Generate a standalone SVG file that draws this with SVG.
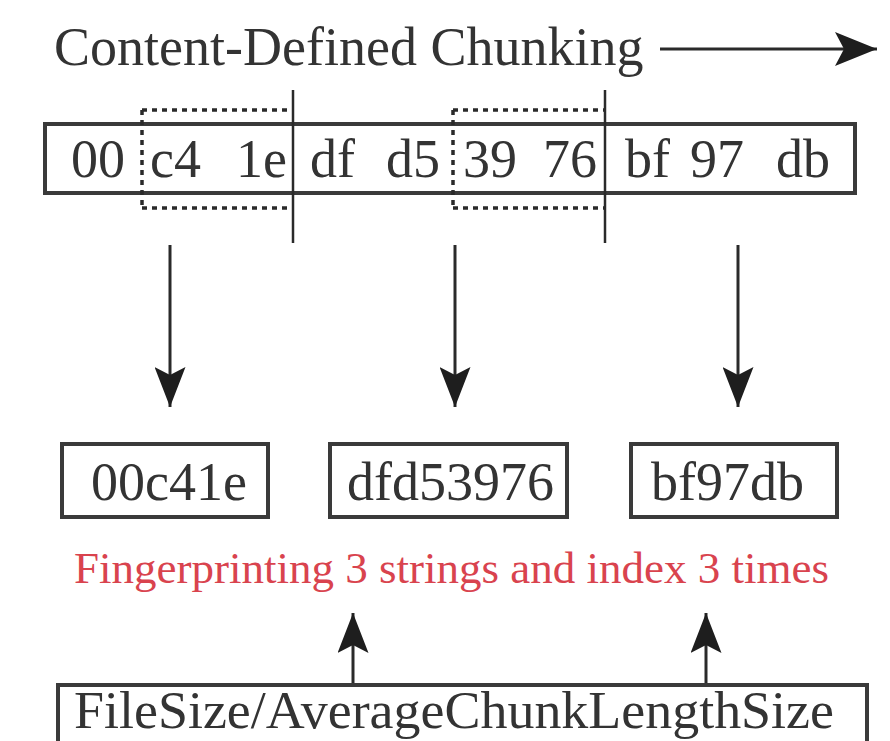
<svg xmlns="http://www.w3.org/2000/svg" width="890" height="741" viewBox="0 0 890 741">
  <defs>
    <marker id="head" markerUnits="userSpaceOnUse" markerWidth="42" markerHeight="34" viewBox="0 0 42 34" refX="42" refY="17" orient="auto">
      <path d="M0,0 L42,17 L0,34 L9,17 Z" fill="#1e1e1e"/>
    </marker>
    <marker id="headS" markerUnits="userSpaceOnUse" markerWidth="40" markerHeight="31" viewBox="0 0 40 31" refX="40" refY="15.5" orient="auto">
      <path d="M0,0 L40,15.5 L0,31 L8,15.5 Z" fill="#1e1e1e"/>
    </marker>
  </defs>
  <style>
    text { font-family: "Liberation Serif", "Times New Roman", serif; fill: #333; }
    .big { font-size: 54px; }
    .red { fill: #d9434e; font-size: 45px; }
    .box { fill: none; stroke: #3a3a3a; stroke-width: 4; }
    .rule { stroke: #2a2a2a; stroke-width: 2.5; }
    .dot { stroke: #2a2a2a; stroke-width: 3.5; stroke-dasharray: 5 5; fill: none; }
    .arrow { stroke: #2a2a2a; stroke-width: 3; fill: none; }
  </style>
  <rect width="890" height="741" fill="#fff"/>

  <g id="title">
    <text class="big" x="54" y="65">Content-Defined Chunking</text>
  </g>

  <g id="byte-stream">
    <rect class="box" x="45" y="124" width="810" height="69"/>
    <!-- dotted window markers -->
    <path class="dot" d="M142,110 H293 M142,208 H293 M142,110 V208"/>
    <path class="dot" d="M453,110 H605 M453,208 H605 M453,110 V208"/>
    <!-- chunk boundaries -->
    <line class="rule" x1="293" y1="90" x2="293" y2="243"/>
    <line class="rule" x1="605" y1="90" x2="605" y2="243"/>
    <text class="big" x="71" y="177">00</text>
    <text class="big" x="150" y="177">c4</text>
    <text class="big" x="236" y="177">1e</text>
    <text class="big" x="310" y="177">df</text>
    <text class="big" x="386" y="177">d5</text>
    <text class="big" x="463" y="177">39</text>
    <text class="big" x="543" y="177">76</text>
    <text class="big" x="625" y="177">bf</text>
    <text class="big" x="690" y="177">97</text>
    <text class="big" x="776" y="177">db</text>
  </g>

  <g id="chunk1">
    <rect class="box" x="62" y="444" width="206" height="73"/>
    <text class="big" x="91" y="500">00c41e</text>
  </g>
  <g id="chunk2">
    <rect class="box" x="330" y="444" width="237" height="73"/>
    <text class="big" x="347" y="500">dfd53976</text>
  </g>
  <g id="chunk3">
    <rect class="box" x="631" y="444" width="206" height="73"/>
    <text class="big" x="651" y="500">bf97db</text>
  </g>

  <g id="note">
    <text class="red" x="74" y="583">Fingerprinting 3 strings and index 3 times</text>
  </g>

  <g id="divisor">
    <rect class="box" x="58" y="685" width="809" height="70"/>
    <text x="74" y="728" font-size="52" textLength="760" lengthAdjust="spacingAndGlyphs">FileSize/AverageChunkLengthSize</text>
  </g>

  <g id="connectors">
    <line class="arrow" x1="660" y1="49" x2="877" y2="49" marker-end="url(#head)"/>
    <line class="arrow" x1="170" y1="245" x2="170" y2="407" marker-end="url(#headS)"/>
    <line class="arrow" x1="455" y1="245" x2="455" y2="407" marker-end="url(#headS)"/>
    <line class="arrow" x1="738" y1="245" x2="738" y2="407" marker-end="url(#headS)"/>
    <line class="arrow" x1="353" y1="683" x2="353" y2="613" marker-end="url(#headS)"/>
    <line class="arrow" x1="706" y1="683" x2="706" y2="613" marker-end="url(#headS)"/>
  </g>
</svg>
